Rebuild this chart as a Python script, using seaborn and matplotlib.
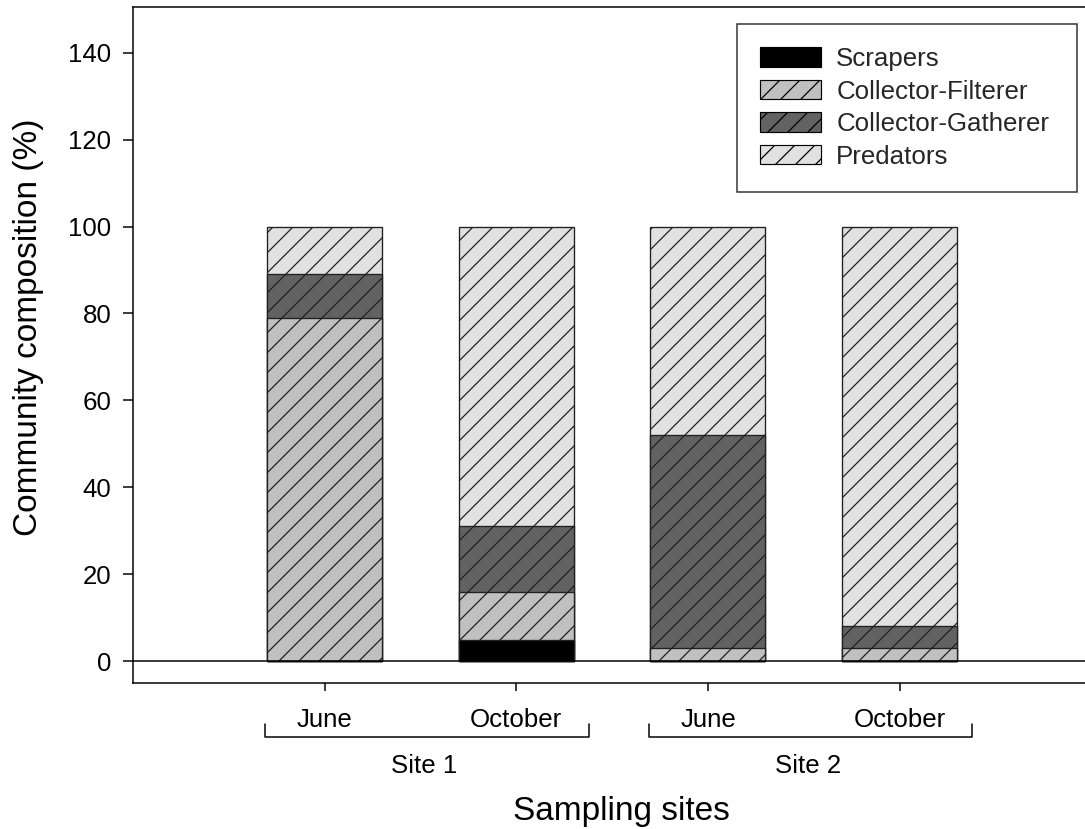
import matplotlib
matplotlib.use("Agg")
import matplotlib.pyplot as plt
from matplotlib.patches import Patch
import matplotlib.transforms as mtransforms
import numpy as np
import seaborn as sns


# --------- Data --------- #
positions = [1, 2, 3, 4]
months = ["June", "October", "June", "October"]
sites = ["Site 1", "Site 1", "Site 2", "Site 2"]

groups = ["Scrapers", "Collector-Filterer", "Collector-Gatherer", "Predators"]
scrapers = [0, 5, 0, 0]
filterer = [79, 11, 3, 3]
gatherer = [10, 15, 49, 5]
predators = [11, 69, 48, 92]

colors = ["black", "#c0c0c0", "#626262", "#e1e1e1"]
hatches = ["", "//", "//", "//"]


# --------- Style --------- #
sns.set_theme(style="ticks")
plt.rcParams["font.family"] = ["Liberation Sans", "DejaVu Sans"]
plt.rcParams["hatch.linewidth"] = 0.75
plt.rcParams["axes.linewidth"] = 0.9

fig = plt.figure(figsize=(1085 / 120, 829 / 120), dpi=120)
ax = fig.add_axes([133 / 1085, 1 - 683 / 829, 952 / 1085, 676 / 829])

# --------- Stacked bars (cumulative heights drawn back to front) --------- #
layers = np.array([scrapers, filterer, gatherer, predators], dtype=float)
tops = np.cumsum(layers, axis=0)

for i in reversed(range(len(groups))):
    sns.barplot(x=positions, y=tops[i], orient="x", native_scale=True, width=0.6,
                color=colors[i], saturation=1, hatch=hatches[i], edgecolor="#202020",
                linewidth=0.8, errorbar=None, ax=ax)

ax.axhline(0, color="black", linewidth=0.9, zorder=5)

# --------- Axes --------- #
ax.set_xlim(0, 4.967)
ax.set_ylim(-5, 150.5)
ax.set_yticks(range(0, 141, 20))
ax.set_xticks(positions)
ax.set_xticklabels(months)
ax.tick_params(axis="y", direction="out", length=6, width=0.9, pad=7, labelsize=15.5, colors="black")
ax.tick_params(axis="x", direction="out", length=5, width=0.9, pad=10, labelsize=15.5, colors="black")
for side in ["left", "bottom", "top"]:
    ax.spines[side].set_visible(True)
    ax.spines[side].set_color("black")
ax.spines["right"].set_visible(False)

ax.set_ylabel("Community composition (%)", fontsize=20, color="black")
ax.yaxis.set_label_coords(-0.110, 0.526)
ax.yaxis.label.set_verticalalignment("center")
ax.set_xlabel("Sampling sites", fontsize=20, color="black")
ax.xaxis.set_label_coords(0.513, -0.2027)
ax.xaxis.label.set_verticalalignment("baseline")

# --------- Site brackets --------- #
trans = mtransforms.blended_transform_factory(ax.transData, ax.transAxes)
for site in ["Site 1", "Site 2"]:
    xs = [p for p, s in zip(positions, sites) if s == site]
    left, right = min(xs) - 0.31, max(xs) + 0.38
    ax.plot([left, left, right, right], [-0.0607, -0.0799, -0.0799, -0.0607],
            color="black", linewidth=0.9, transform=trans, clip_on=False)
    ax.text(np.mean(xs) + 0.02, -0.133, site, transform=trans, ha="center",
            va="baseline", fontsize=15.5, color="black")

# --------- Legend --------- #
handles = [Patch(facecolor=c, edgecolor="black", hatch=h, linewidth=0.7, label=g)
           for g, c, h in zip(groups, colors, hatches)]
leg = ax.legend(handles=handles, loc="upper right", bbox_to_anchor=(0.6345, 0.7249, 0.3571, 0.2501),
                mode="expand", borderaxespad=0, fontsize=15.5, frameon=True, fancybox=False,
                handlelength=2.36, handleheight=0.78, handletextpad=0.58,
                borderpad=0.9, labelspacing=0.33)
leg.get_frame().set_edgecolor("black")
leg.get_frame().set_linewidth(0.9)

fig.savefig("out.png", dpi=120)
